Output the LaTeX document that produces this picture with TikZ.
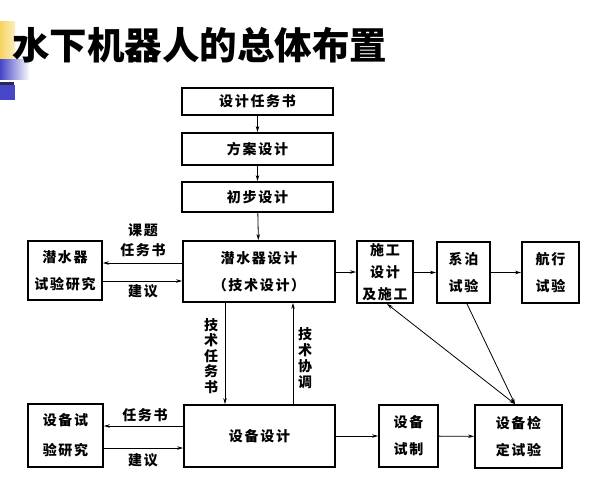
\documentclass[tikz,border=0pt]{standalone}
\usepackage{fontspec}
\newfontfamily\cjk[LetterSpace=12]{Noto Sans CJK SC}
\newfontfamily\cjkt{Noto Sans CJK SC}
\usetikzlibrary{arrows.meta}
\definecolor{decoy}{RGB}{245,212,95}
\definecolor{decob}{RGB}{70,70,200}
\definecolor{decod}{RGB}{40,40,90}
\tikzset{
  box/.style={draw, line width=1.8pt, inner sep=0pt, align=center,
    font=\cjk\bfseries\fontsize{14}{27}\selectfont},
  lbl/.style={inner sep=0pt, align=center, font=\cjk\bfseries\fontsize{14}{17}\selectfont},
  arr/.style={line width=0.8pt, -{Stealth[length=6pt,width=3.5pt]}},
  darr/.style={line width=0.8pt, {Stealth[length=6pt,width=3.5pt]}-{Stealth[length=6pt,width=3.5pt]}},
}
\begin{document}
\begin{tikzpicture}[x=1pt,y=-1pt]
\useasboundingbox (0,0) rectangle (596,497);
% title decoration
\shade[left color=decoy, right color=decoy!40] (0,22) rectangle (15,60);
\shade[left color=decob, right color=white] (0,60) rectangle (30,80);
\fill[decod] (0,82) rectangle (14,85);
\fill[decob] (0,85) rectangle (15,100);
\node[anchor=west, inner sep=0pt, font=\cjkt\bfseries\fontsize{37.5}{40}\selectfont] (title) at (12,45) {水下机器人的总体布置};
% boxes
\node[box, minimum width=151pt, minimum height=27pt] (t1) at (257.5,101.5) {设计任务书};
\node[box, minimum width=151pt, minimum height=32pt] (t2) at (257.5,149) {方案设计};
\node[box, minimum width=151pt, minimum height=30pt] (t3) at (257.5,197) {初步设计};
\node[box, minimum width=152pt, minimum height=61pt] (sub) at (259,271.5) {潜水器设计\\（技术设计）};
\node[box, minimum width=74pt, minimum height=59pt] (exp) at (65,270.5) {潜水器\\试验研究};
\node[box, minimum width=56pt, minimum height=62pt, font=\cjk\bfseries\fontsize{14}{22}\selectfont] (con) at (385,272) {施工\\设计\\及施工};
\node[box, minimum width=53pt, minimum height=61pt] (moor) at (463.5,272.5) {系泊\\试验};
\node[box, minimum width=57pt, minimum height=61pt] (nav) at (550.5,272.5) {航行\\试验};
\node[box, minimum width=151pt, minimum height=62pt] (eqd) at (259.5,436) {设备设计};
\node[box, minimum width=75pt, minimum height=63pt, font=\cjk\bfseries\fontsize{14}{30}\selectfont] (eqe) at (65.5,435.5) {设备试\\验研究};
\node[box, minimum width=59pt, minimum height=62pt] (eqm) at (408.5,436) {设备\\试制};
\node[box, minimum width=87pt, minimum height=63pt] (eqt) at (518.5,436.5) {设备检\\定试验};
% helper coordinates
\coordinate (ya) at (0,263);
\coordinate (yb) at (0,281);
\coordinate (yc) at (0,426);
\coordinate (yd) at (0,448);
\coordinate (xa) at (225,0);
\coordinate (xb) at (293,0);
% connectors
\draw[arr] (t1) -- (t2);
\draw[arr] (t2) -- (t3);
\draw[arr] (t3) -- (sub);
\draw[arr] (sub.west |- ya) -- (exp.east |- ya);
\draw[arr] (exp.east |- yb) -- (sub.west |- yb);
\draw[arr] (sub.east |- con) -- (con.west);
\draw[arr] (con.east |- moor) -- (moor.west);
\draw[arr] (moor) -- (nav);
\draw[arr] (sub.south -| xa) -- (eqd.north -| xa);
\draw[arr] (eqd.north -| xb) -- (sub.south -| xb);
\draw[arr] (eqd.west |- yc) -- (eqe.east |- yc);
\draw[arr] (eqe.east |- yd) -- (eqd.west |- yd);
\draw[arr] (eqd) -- (eqm);
\draw[arr] (eqm) -- (eqt);
\draw[darr] ([xshift=2pt]con.south) -- ([xshift=-3.5pt]eqt.north);
\draw[arr] ([xshift=3.5pt]moor.south) -- ([xshift=-3.5pt]eqt.north);
% labels
\node[lbl] (l1) at (143,230) {课题};
\node[lbl] (l2) at (143,250) {任务书};
\node[lbl] (l3) at (143,291) {建议};
\node[lbl] (l4) at (145,415) {任务书};
\node[lbl] (l5) at (143,460) {建议};
\node[lbl, font=\cjk\bfseries\fontsize{14}{15.5}\selectfont] (l6) at (211,356) {技\\术\\任\\务\\书};
\node[lbl, font=\cjk\bfseries\fontsize{14}{16}\selectfont] (l7) at (305,358) {技\\术\\协\\调};
\end{tikzpicture}
\end{document}
